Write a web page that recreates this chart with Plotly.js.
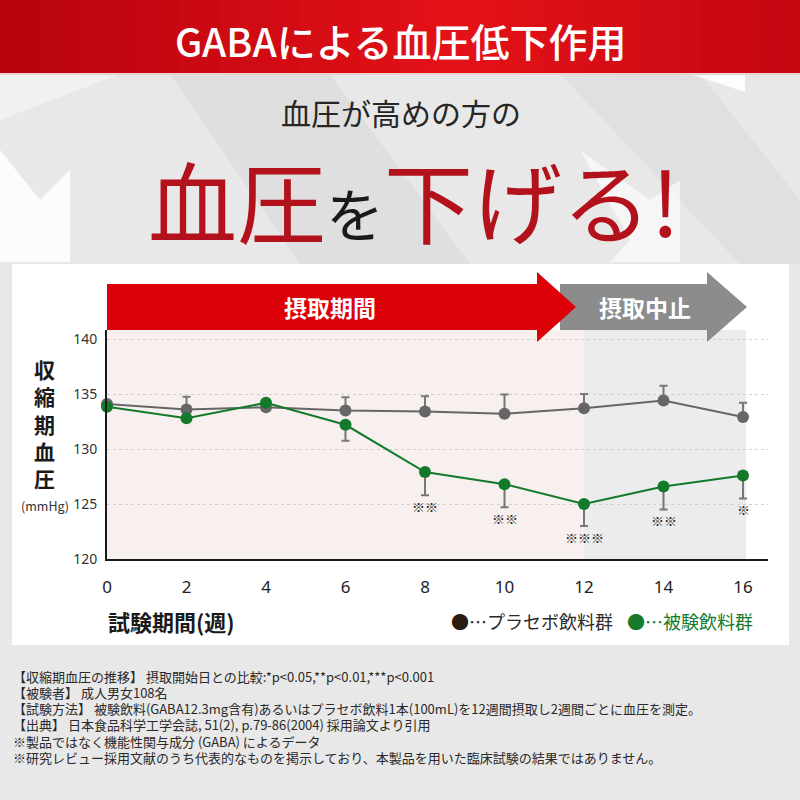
<!DOCTYPE html>
<html><head><meta charset="utf-8">
<script src="https://cdn.plot.ly/plotly-3.0.1.min.js"></script>
<style>html,body{margin:0;padding:0;background:#e8e8e8}#chart{width:800px;height:800px}</style>
</head><body><div id="chart"></div>
<script>
// ---------- data ----------
const weeks = [0, 2, 4, 6, 8, 10, 12, 14, 16];
const placebo = [134.1, 133.6, 133.8, 133.5, 133.4, 133.2, 133.7, 134.4, 132.9];
const placeboErr = [0, 1.15, 0, 1.2, 1.4, 1.75, 1.3, 1.35, 1.3];
const gaba = [133.85, 132.8, 134.2, 132.2, 127.9, 126.8, 125.0, 126.6, 127.6];
const gabaErr = [0, 0, 0, 1.45, 2.1, 2.1, 2.0, 2.1, 2.1];
const sigMarks = ["", "", "", "", "※※", "※※", "※※※", "※※", "※"];
const xTicks = [0, 2, 4, 6, 8, 10, 12, 14, 16];
const yTicks = [120, 125, 130, 135, 140];
const seriesNames = ["プラセボ飲料群", "被験飲料群"];
const intakeEnd = 12, studyEnd = 16.08;

// ---------- geometry helpers (decoration only) ----------
const L = 107, R = 768, T = 330, B = 559;
const W = R - L, H = B - T;
const px = x => (x - L) / W;
const py = y => (B - y) / H;
const FONT = '"Noto Sans CJK JP", "Noto Sans", sans-serif';

function poly(pts, fill, extra) {
  const d = pts.map((p, i) => (i ? 'L' : 'M') + px(p[0]).toFixed(5) + ',' + py(p[1]).toFixed(5)).join(' ') + ' Z';
  return Object.assign({type: 'path', xref: 'paper', yref: 'paper', path: d, fillcolor: fill, line: {width: 0}, layer: 'below'}, extra || {});
}
function rect(x0, y0, x1, y1, fill, extra) {
  return Object.assign({type: 'rect', xref: 'paper', yref: 'paper', x0: px(x0), x1: px(x1), y0: py(y1), y1: py(y0), fillcolor: fill, line: {width: 0}, layer: 'below'}, extra || {});
}

const shapes = [];
// background decorations
shapes.push(poly([[170, 74], [330, 74], [470, 264], [300, 264]], 'rgba(212,212,212,0.45)'));
shapes.push(poly([[560, 74], [700, 74], [800, 200], [800, 264], [740, 264]], 'rgba(215,215,215,0.45)'));
shapes.push(poly([[0, 150], [40, 200], [70, 170], [70, 262], [0, 262]], 'rgba(255,255,255,0.85)'));
shapes.push(poly([[580, 150], [650, 200], [680, 180], [680, 262], [610, 262], [630, 240]], 'rgba(255,255,255,0.6)'));
shapes.push(poly([[690, 74], [745, 74], [745, 92]], 'rgba(255,255,255,0.9)'));
shapes.push(poly([[0, 74], [120, 74], [0, 120]], 'rgba(255,255,255,0.4)'));
// red header gradient strips
const nStrip = 40;
for (let i = 0; i < nStrip; i++) {
  const t = (i + 0.5) / nStrip;
  const k = Math.max(0, 1 - Math.abs(t - 0.58) / 0.65);
  const r = Math.round(178 + (228 - 178) * k), g = Math.round(0 + 18 * k), b = Math.round(12 + 12 * k);
  shapes.push(rect(i * 800 / nStrip, 0, (i + 1) * 800 / nStrip + 0.6, 73, `rgb(${r},${g},${b})`));
}
shapes.push(rect(0, 73, 800, 75, 'rgba(240,200,200,0.8)'));
// white panel
shapes.push(rect(12, 264, 789, 645, '#ffffff'));
// phase shading (data x, paper y)
shapes.push({type: 'rect', xref: 'x', yref: 'paper', x0: 0, x1: intakeEnd, y0: 0, y1: 1, fillcolor: '#f8efef', line: {width: 0}, layer: 'below'});
shapes.push({type: 'rect', xref: 'x', yref: 'paper', x0: intakeEnd, x1: studyEnd, y0: 0, y1: 1, fillcolor: '#ececec', line: {width: 0}, layer: 'below'});
// banner arrows
shapes.push(poly([[560, 284], [707, 284], [707, 272], [747, 307], [707, 342], [707, 330], [560, 330]], '#8c8c8c', {layer: 'above'}));
shapes.push(poly([[107, 284], [537, 284], [537, 272], [576, 307], [537, 342], [537, 330], [107, 330]], '#dc0008', {layer: 'above'}));

// ---------- annotations ----------
const ann = [];
function txt(x, y, text, size, color, opts) {
  ann.push(Object.assign({xref: 'paper', yref: 'paper', x: px(x), y: py(y), text: text, showarrow: false,
    font: {family: FONT, size: size, color: color}, xanchor: 'center', yanchor: 'middle'}, opts || {}));
}
txt(400, 40, 'GABAによる血圧低下作用', 39, '#ffffff', {font: {family: FONT, size: 39, color: '#fff', weight: 500}});
txt(401, 112, '血圧が高めの方の', 30, '#262626');
txt(146, 198, '<span style="fill:#b3121c">血圧</span><span style="fill:#1a1a1a;font-size:58px">を</span><span style="fill:#b3121c">下げる!</span>', 89, '#b3121c', {xanchor: 'left'});
txt(330, 307, '摂取期間', 23, '#ffffff', {font: {family: FONT, size: 23, color: '#fff', weight: 700}});
txt(645, 307, '摂取中止', 23, '#ffffff', {font: {family: FONT, size: 23, color: '#fff', weight: 700}});
// y title (stacked)
txt(44, 423, '収<br>縮<br>期<br>血<br>圧', 21, '#1a1a1a', {font: {family: FONT, size: 21, color: '#1a1a1a', weight: 700}});
txt(45, 505, '(mmHg)', 12.5, '#333333');
// x title and legend
txt(106, 621, '試験期間(週)', 22, '#1a1a1a', {xanchor: 'left', font: {family: FONT, size: 22, color: '#1a1a1a', weight: 700}});
txt(449, 621, '<span style="fill:#2b1c12">●</span>…' + seriesNames[0], 18, '#2a2a2a', {xanchor: 'left'});
txt(625, 621, '●…' + seriesNames[1], 18, '#157a2c', {xanchor: 'left'});
// notes (one annotation per line)
const notes = [
  '【収縮期血圧の推移】 摂取開始日との比較:*p&lt;0.05,**p&lt;0.01,***p&lt;0.001',
  '【被験者】 成人男女108名',
  '【試験方法】 被験飲料(GABA12.3mg含有)あるいはプラセボ飲料1本(100mL)を12週間摂取し2週間ごとに血圧を測定。',
  '【出典】 日本食品科学工学会誌, 51(2), p.79-86(2004) 採用論文より引用',
  '※製品ではなく機能性関与成分 (GABA) によるデータ',
  '※研究レビュー採用文献のうち代表的なものを掲示しており、本製品を用いた臨床試験の結果ではありません。'
];
notes.forEach((line, i) => txt(11, 676 + i * 16.3, line, 13, '#2a2a2a', {xanchor: 'left', align: 'left'}));
// significance marks
weeks.forEach((w, i) => {
  if (sigMarks[i]) ann.push({xref: 'x', yref: 'y', x: w, y: gaba[i] - gabaErr[i], yshift: -11, text: sigMarks[i], showarrow: false,
    font: {family: FONT, size: 13, color: '#1f1f1f'}, xanchor: 'center', yanchor: 'middle'});
});

// ---------- traces ----------
const zeros = weeks.map(() => 0);
const traces = [
  {x: weeks, y: placebo, name: seriesNames[0], mode: 'lines+markers', cliponaxis: false,
   line: {color: '#666666', width: 2}, marker: {color: '#666666', size: 12},
   error_y: {type: 'data', symmetric: false, array: placeboErr, arrayminus: zeros, color: '#777777', thickness: 2, width: 4}},
  {x: weeks, y: gaba, name: seriesNames[1], mode: 'lines+markers', cliponaxis: false,
   line: {color: '#137a2b', width: 2}, marker: {color: '#137a2b', size: 12},
   error_y: {type: 'data', symmetric: false, array: zeros, arrayminus: gabaErr, color: '#777777', thickness: 2, width: 4}}
];

const layout = {
  width: 800, height: 800,
  margin: {l: L, r: 800 - R, t: T, b: 800 - B, pad: 0},
  paper_bgcolor: '#e8e8e8', plot_bgcolor: 'rgba(0,0,0,0)',
  showlegend: false,
  font: {family: FONT, color: '#222'},
  xaxis: {range: [0, 16 + 25 / 39.75], tickvals: xTicks, ticktext: xTicks.map(String), showgrid: false, zeroline: false,
    showline: true, linecolor: '#1a1a1a', linewidth: 2, ticks: '', ticklabelstandoff: 12,
    tickfont: {family: '"Noto Sans", sans-serif', size: 17, color: '#222'}, fixedrange: true},
  yaxis: {range: [120, 120 + H / 11], tickvals: yTicks, ticktext: yTicks.map(String), showgrid: true, gridcolor: '#cfcfcf',
    griddash: 'dot', gridwidth: 1, zeroline: false, showline: true, linecolor: '#1a1a1a', linewidth: 2, ticks: '',
    ticklabelstandoff: 5, tickfont: {family: '"Noto Sans", sans-serif', size: 14, color: '#333'}, fixedrange: true},
  shapes: shapes,
  annotations: ann
};

Plotly.newPlot('chart', traces, layout, {displayModeBar: false, staticPlot: true});
</script>
</body></html>
